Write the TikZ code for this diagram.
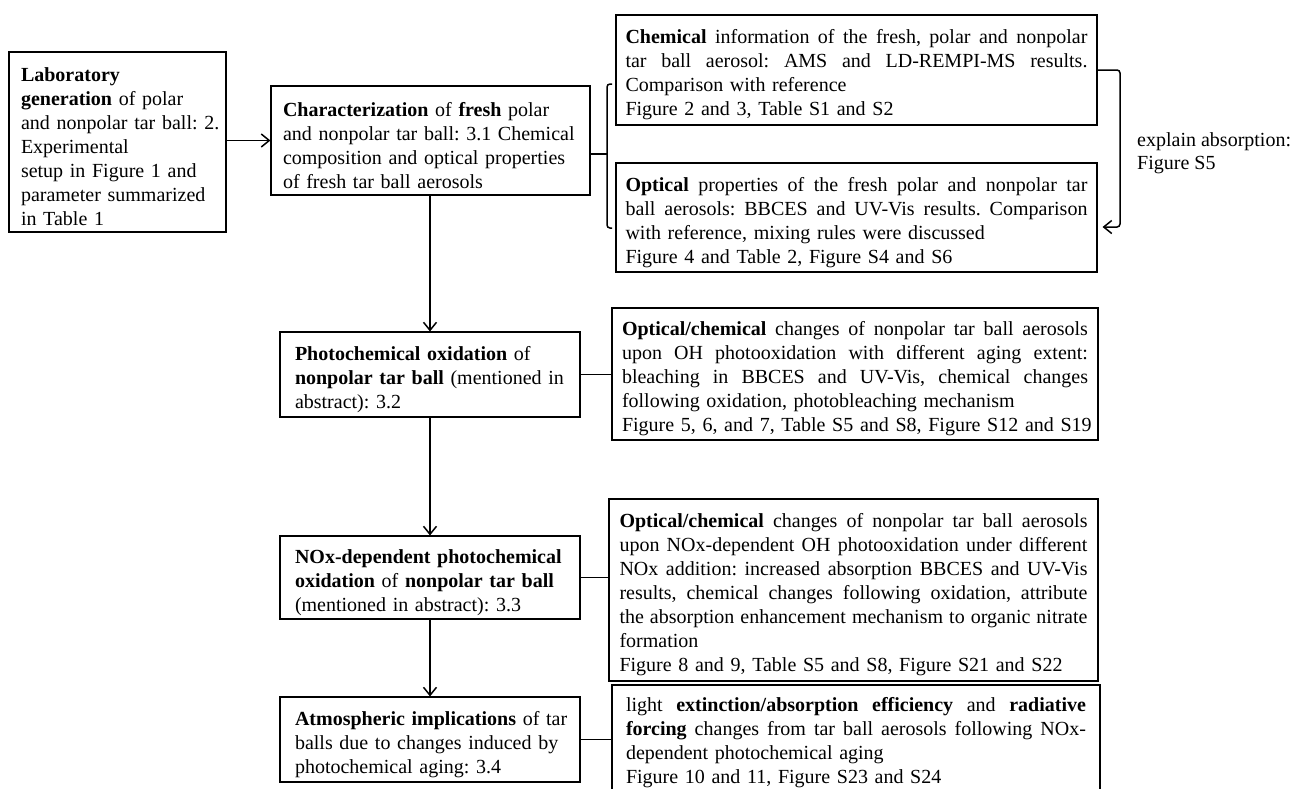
\documentclass[tikz,border=0pt]{standalone}
\usepackage{fontspec}
\setmainfont{Liberation Serif}
\usetikzlibrary{arrows.meta}
\hbadness=10000
\hfuzz=50pt
\frenchspacing
\newcommand\jl[2]{\par\hbox to #1pt{\spaceskip=0.25em plus 1fil\relax #2}}
\newcommand\rl[1]{\par\hbox{#1}}
\begin{document}
\begin{tikzpicture}[x=1pt,y=-1pt,
  box/.style={draw, line width=1.1pt, inner ysep=0pt, font=\fontsize{20}{24}\selectfont\frenchspacing},
  conn/.style={line width=1.5pt},
  arr/.style={conn, -{Straight Barb[length=8pt,width=13pt]}}]
\useasboundingbox (0,0) rectangle (1296,788);
\clip (0,0) rectangle (1296,788);

\node[box, minimum width=217pt, minimum height=180pt, inner xsep=12pt, text width=193pt] (L) at (117.5,142)
 {\rl{\textbf{Laboratory}}\rl{\textbf{generation} of polar}\rl{and nonpolar tar ball: 2.}\rl{Experimental}\rl{setup in Figure 1 and}\rl{parameter summarized}\rl{in Table 1}};

\node[box, minimum width=319pt, minimum height=109pt, inner xsep=12pt, text width=295pt] (C) at (430.5,140.5)
 {\rl{\textbf{Characterization} of \textbf{fresh} polar}\rl{and nonpolar tar ball: 3.1 Chemical}\rl{composition and optical properties}\rl{of fresh tar ball aerosols}};

\node[box, minimum width=481pt, minimum height=110pt, inner xsep=9.5pt, text width=462pt] (CH) at (856.5,70)
 {\jl{462}{\textbf{Chemical} information of the fresh, polar and nonpolar}\jl{462}{tar ball aerosol: AMS and LD-REMPI-MS results.}\rl{Comparison with reference}\rl{Figure 2 and 3, Table S1 and S2}};

\node[box, minimum width=481pt, minimum height=109pt, inner xsep=9.5pt, text width=462pt] (OP) at (856.5,217.5)
 {\jl{462}{\textbf{Optical} properties of the fresh polar and nonpolar tar}\jl{462}{ball aerosols: BBCES and UV-Vis results. Comparison}\rl{with reference, mixing rules were discussed}\rl{Figure 4 and Table 2, Figure S4 and S6}};

\node[box, minimum width=300pt, minimum height=85pt, inner xsep=15pt, text width=270pt] (P) at (430,374.5)
 {\rl{\textbf{Photochemical oxidation} of}\rl{\textbf{nonpolar tar ball} (mentioned in}\rl{abstract): 3.2}};

\node[box, minimum width=486pt, minimum height=132pt, inner xsep=10pt, text width=466pt] (PR) at (855,374)
 {\jl{466}{\textbf{Optical/chemical} changes of nonpolar tar ball aerosols}\jl{466}{upon OH photooxidation with different aging extent:}\jl{466}{bleaching in BBCES and UV-Vis, chemical changes}\rl{following oxidation, photobleaching mechanism}\rl{Figure 5, 6, and 7, Table S5 and S8, Figure S12 and S19}};

\node[box, minimum width=300pt, minimum height=83pt, inner xsep=15pt, text width=270pt] (N) at (430,577.5)
 {\rl{\textbf{NOx-dependent photochemical}}\rl{\textbf{oxidation} of \textbf{nonpolar tar ball}}\rl{(mentioned in abstract): 3.3}};

\node[box, minimum width=489pt, minimum height=182pt, inner xsep=10.5pt, text width=468pt] (NR) at (853.5,590)
 {\jl{468}{\textbf{Optical/chemical} changes of nonpolar tar ball aerosols}\jl{468}{upon NOx-dependent OH photooxidation under different}\jl{468}{NOx addition: increased absorption BBCES and UV-Vis}\jl{468}{results, chemical changes following oxidation, attribute}\jl{468}{the absorption enhancement mechanism to organic nitrate}\rl{formation}\rl{Figure 8 and 9, Table S5 and S8, Figure S21 and S22}};

\node[box, minimum width=300pt, minimum height=85pt, inner xsep=15pt, text width=270pt] (A) at (430,739.5)
 {\rl{\textbf{Atmospheric implications} of tar}\rl{balls due to changes induced by}\rl{photochemical aging: 3.4}};

\node[box, minimum width=488pt, minimum height=106pt, inner xsep=14pt, text width=460pt] (AR) at (856,738)
 {\jl{460}{light \textbf{extinction/absorption efficiency} and \textbf{radiative}}\jl{460}{\textbf{forcing} changes from tar ball aerosols following NOx-}\rl{dependent photochemical aging}\rl{Figure 10 and 11, Figure S23 and S24}};

\node[anchor=west, align=left, inner sep=0pt, font=\fontsize{20}{23}\selectfont] (lab) at (1137,153.5)
 {explain absorption:\\Figure S5};

% connectors
\draw[arr] (L.east |- C.west) -- (C.west);
\draw[arr] (P.north |- C.south) -- (P.north);
\draw[arr] (P.south) -- (N.north);
\draw[arr] (N.south) -- (A.north);
\draw[conn] (P.east) -- (PR.west |- P.east);
\draw[conn] (N.east) -- (NR.west |- N.east);
\draw[conn] (A.east) -- (AR.west |- A.east);

% bracket
\coordinate (bj) at (607,154);
\coordinate (bt) at (612,84);
\coordinate (bb) at (612,228);
\draw[conn] (bj -| C.east) -- (bj);
\draw[conn, rounded corners=3pt] (bt) -- ++(-5,0) |- (bb);

% explain absorption arrow
\coordinate (exb) at (1120,227);
\draw[arr, rounded corners=3pt, shorten >=5pt] (CH.east) -| (exb) -- (exb -| OP.east);
\end{tikzpicture}
\end{document}
